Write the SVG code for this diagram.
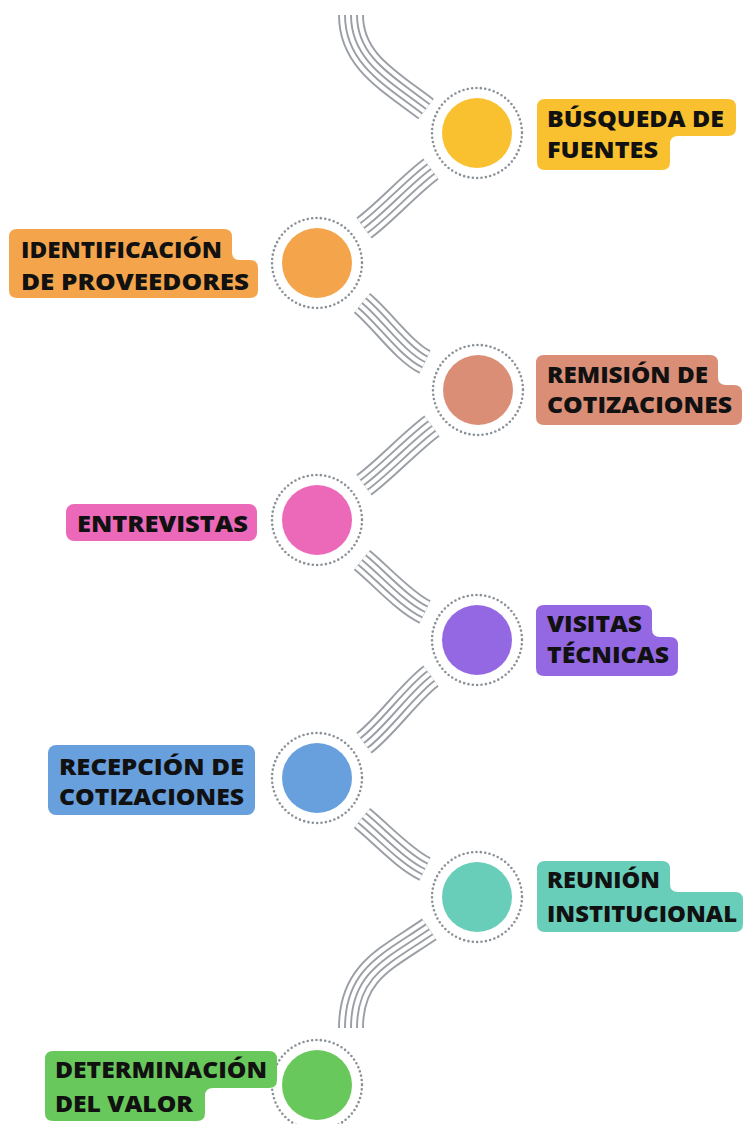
<svg xmlns="http://www.w3.org/2000/svg" xmlns:xlink="http://www.w3.org/1999/xlink" width="744" height="1124" viewBox="0 0 744 1124">
<style>
.ring{fill:none;stroke:#8a9197;stroke-width:2.6;stroke-dasharray:0 4.4;stroke-linecap:round}
.lbl{font-family:"Open Sans","Liberation Sans",sans-serif;font-weight:800;font-size:22px;fill:#111}
.g1{stroke:#9a9fa5;stroke-width:25.9}
.b1{stroke:#ffffff;stroke-width:22.1}
.g2{stroke:#9a9fa5;stroke-width:13.9}
.b2{stroke:#ffffff;stroke-width:10.1}
.g3{stroke:#9a9fa5;stroke-width:1.9}
</style>
<defs>
<path id="pA" fill="none" d="M351,15 C351,60 388,80 426,109"/>
<path id="pB" fill="none" d="M431,169 C410.75,183.75 384.25,213.25 364,228"/>
<path id="pC" fill="none" d="M362,303 C381.25,318.75 404.3,352.1 425,362"/>
<path id="pD" fill="none" d="M432,426 C411.75,440.75 384.25,470.25 364,485"/>
<path id="pE" fill="none" d="M362,560 C381.25,575.75 404.3,602.1 425,612"/>
<path id="pF" fill="none" d="M431,676 C410.75,690.75 384.25,728.25 364,743"/>
<path id="pG" fill="none" d="M362,818 C381.25,833.75 404.3,859.1 425,869"/>
<path id="pH" fill="none" d="M429.3,929.3 C386,959 351,972 351,1028"/>
</defs>
<rect width="744" height="1124" fill="#ffffff"/>
<g id="connectors">
<g id="bundle-1"><use href="#pA" class="g1"/><use href="#pA" class="b1"/><use href="#pA" class="g2"/><use href="#pA" class="b2"/><use href="#pA" class="g3"/></g>
<g id="bundle-2"><use href="#pB" class="g1"/><use href="#pB" class="b1"/><use href="#pB" class="g2"/><use href="#pB" class="b2"/><use href="#pB" class="g3"/></g>
<g id="bundle-3"><use href="#pC" class="g1"/><use href="#pC" class="b1"/><use href="#pC" class="g2"/><use href="#pC" class="b2"/><use href="#pC" class="g3"/></g>
<g id="bundle-4"><use href="#pD" class="g1"/><use href="#pD" class="b1"/><use href="#pD" class="g2"/><use href="#pD" class="b2"/><use href="#pD" class="g3"/></g>
<g id="bundle-5"><use href="#pE" class="g1"/><use href="#pE" class="b1"/><use href="#pE" class="g2"/><use href="#pE" class="b2"/><use href="#pE" class="g3"/></g>
<g id="bundle-6"><use href="#pF" class="g1"/><use href="#pF" class="b1"/><use href="#pF" class="g2"/><use href="#pF" class="b2"/><use href="#pF" class="g3"/></g>
<g id="bundle-7"><use href="#pG" class="g1"/><use href="#pG" class="b1"/><use href="#pG" class="g2"/><use href="#pG" class="b2"/><use href="#pG" class="g3"/></g>
<g id="bundle-8"><use href="#pH" class="g1"/><use href="#pH" class="b1"/><use href="#pH" class="g2"/><use href="#pH" class="b2"/><use href="#pH" class="g3"/></g>
</g>
<g id="node-busqueda">
<circle class="ring" cx="477" cy="133" r="45"/>
<circle cx="477" cy="133" r="35" fill="#F9C02F"/>
<path fill="#F9C02F" d="M545,99 H728 Q736,99 736,107 V128 Q736,136 728,136 H678 Q670,136 670,144 V162 Q670,170 662,170 H545 Q537,170 537,162 V107 Q537,99 545,99 Z"/>
<text class="lbl" x="547" y="127" textLength="177" lengthAdjust="spacingAndGlyphs">BÚSQUEDA DE</text>
<text class="lbl" x="547" y="158" textLength="111" lengthAdjust="spacingAndGlyphs">FUENTES</text>
</g>
<g id="node-identificacion">
<circle class="ring" cx="317" cy="263" r="45"/>
<circle cx="317" cy="263" r="35" fill="#F4A54C"/>
<path fill="#F4A54C" d="M17,229 H224 Q232,229 232,237 V252 Q232,260 240,260 H250 Q258,260 258,268 V290 Q258,298 250,298 H17 Q9,298 9,290 V237 Q9,229 17,229 Z"/>
<text class="lbl" x="21" y="258" textLength="201" lengthAdjust="spacingAndGlyphs">IDENTIFICACIÓN</text>
<text class="lbl" x="21" y="290" textLength="228" lengthAdjust="spacingAndGlyphs">DE PROVEEDORES</text>
</g>
<g id="node-remision">
<circle class="ring" cx="478" cy="390" r="45"/>
<circle cx="478" cy="390" r="35" fill="#DA8E76"/>
<path fill="#DA8E76" d="M544,355 H710 Q718,355 718,363 V377 Q718,385 726,385 H734 Q742,385 742,393 V417 Q742,425 734,425 H544 Q536,425 536,417 V363 Q536,355 544,355 Z"/>
<text class="lbl" x="547" y="383" textLength="161" lengthAdjust="spacingAndGlyphs">REMISIÓN DE</text>
<text class="lbl" x="547" y="413" textLength="185" lengthAdjust="spacingAndGlyphs">COTIZACIONES</text>
</g>
<g id="node-entrevistas">
<circle class="ring" cx="317" cy="520" r="45"/>
<circle cx="317" cy="520" r="35" fill="#EC69BA"/>
<rect x="66" y="504" width="191" height="37" rx="8" fill="#EC69BA"/>
<text class="lbl" x="77" y="532" textLength="171" lengthAdjust="spacingAndGlyphs">ENTREVISTAS</text>
</g>
<g id="node-visitas">
<circle class="ring" cx="477" cy="640" r="45"/>
<circle cx="477" cy="640" r="35" fill="#9468E3"/>
<path fill="#9468E3" d="M544,605 H644 Q652,605 652,613 V629 Q652,637 660,637 H670 Q678,637 678,645 V668 Q678,676 670,676 H544 Q536,676 536,668 V613 Q536,605 544,605 Z"/>
<text class="lbl" x="547" y="632" textLength="95" lengthAdjust="spacingAndGlyphs">VISITAS</text>
<text class="lbl" x="547" y="663" textLength="122" lengthAdjust="spacingAndGlyphs">TÉCNICAS</text>
</g>
<g id="node-recepcion">
<circle class="ring" cx="317" cy="778" r="45"/>
<circle cx="317" cy="778" r="35" fill="#68A0DE"/>
<rect x="48" y="745" width="207" height="70" rx="8" fill="#68A0DE"/>
<text class="lbl" x="59" y="775" textLength="185" lengthAdjust="spacingAndGlyphs">RECEPCIÓN DE</text>
<text class="lbl" x="59" y="805" textLength="185" lengthAdjust="spacingAndGlyphs">COTIZACIONES</text>
</g>
<g id="node-reunion">
<circle class="ring" cx="477" cy="897" r="45"/>
<circle cx="477" cy="897" r="35" fill="#68CDB9"/>
<path fill="#68CDB9" d="M545,861 H662 Q670,861 670,869 V884 Q670,892 678,892 H735 Q743,892 743,900 V924 Q743,932 735,932 H545 Q537,932 537,924 V869 Q537,861 545,861 Z"/>
<text class="lbl" x="547" y="888" textLength="113" lengthAdjust="spacingAndGlyphs">REUNIÓN</text>
<text class="lbl" x="547" y="922" textLength="190" lengthAdjust="spacingAndGlyphs">INSTITUCIONAL</text>
</g>
<g id="node-determinacion">
<circle class="ring" cx="317" cy="1085" r="45"/>
<circle cx="317" cy="1085" r="35" fill="#69C85B"/>
<path fill="#69C85B" d="M53,1051 H269 Q277,1051 277,1059 V1080 Q277,1088 269,1088 H213 Q205,1088 205,1096 V1113 Q205,1121 197,1121 H53 Q45,1121 45,1113 V1059 Q45,1051 53,1051 Z"/>
<text class="lbl" x="55" y="1078" textLength="212" lengthAdjust="spacingAndGlyphs">DETERMINACIÓN</text>
<text class="lbl" x="55" y="1112" textLength="138" lengthAdjust="spacingAndGlyphs">DEL VALOR</text>
</g>
</svg>
